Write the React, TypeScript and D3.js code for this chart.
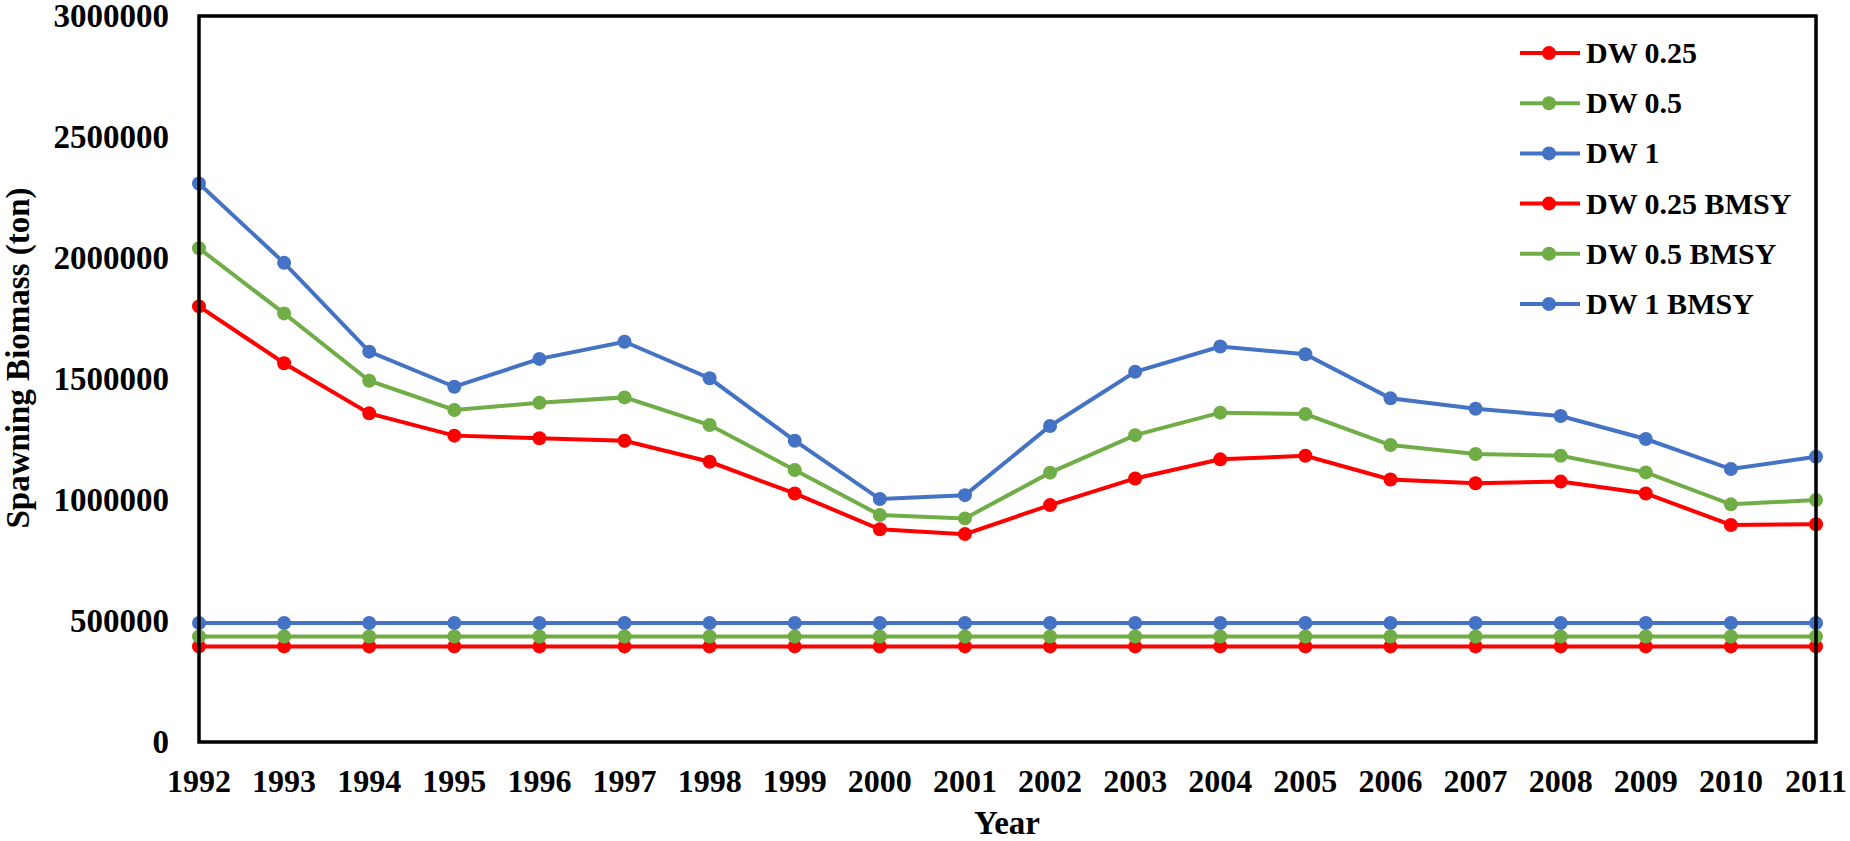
import React from "react";
import * as d3 from "d3";

const years = [1992,1993,1994,1995,1996,1997,1998,1999,2000,2001,2002,2003,2004,2005,2006,2007,2008,2009,2010,2011];
const dw025 = [1800000,1565000,1358000,1266000,1255000,1245000,1158000,1027000,879000,859000,979000,1089000,1168000,1183000,1085000,1069000,1076000,1027000,897000,900000];
const dw05 = [2040000,1771000,1493000,1372000,1402000,1424000,1310000,1124000,938000,924000,1113000,1268000,1361000,1355000,1227000,1190000,1183000,1114000,982000,1000000];
const dw1 = [2308000,1980000,1613000,1468000,1583000,1654000,1503000,1245000,1004000,1020000,1306000,1530000,1634000,1602000,1420000,1377000,1347000,1252000,1128000,1179000];
const dw025Bmsy = years.map(() => 395000);
const dw05Bmsy = years.map(() => 436000);
const dw1Bmsy = years.map(() => 492000);
const yTicks = [0,500000,1000000,1500000,2000000,2500000,3000000];
const seriesNames = ["DW 0.25","DW 0.5","DW 1","DW 0.25 BMSY","DW 0.5 BMSY","DW 1 BMSY"];
const seriesColors = ["#FF0000","#70AD47","#4472C4","#FF0000","#70AD47","#4472C4"];

const W = 1850, H = 841;
const left = 199, right = 1816, top = 16, bottom = 742;
const FONT = "'Liberation Serif', 'Times New Roman', serif";

export default function App() {
  const x = d3.scalePoint<number>().domain(years).range([left, right]);
  const y = d3.scaleLinear().domain([0, 3000000]).range([bottom, top]);
  const line = d3.line<number>().x((_, i) => x(years[i])!).y(v => y(v));
  const allSeries = [dw025, dw05, dw1, dw025Bmsy, dw05Bmsy, dw1Bmsy];
  const drawOrder = [3, 4, 5, 0, 1, 2];
  return (
    <div style={{ position: "absolute", left: 0, top: 0 }}>
      <svg width={W} height={H} style={{ display: "block", background: "#fff" }} fontFamily={FONT} fontWeight="bold">
        <rect x={0} y={0} width={W} height={H} fill="#fff" />
        {drawOrder.map(si => (
          <g key={si}>
            <path d={line(allSeries[si]) || ""} fill="none" stroke={seriesColors[si]} strokeWidth={4} />
            {allSeries[si].map((v, i) => (
              <circle key={i} cx={x(years[i])} cy={y(v)} r={7} fill={seriesColors[si]} />
            ))}
          </g>
        ))}
        <rect x={left} y={top} width={right - left} height={bottom - top} fill="none" stroke="#000" strokeWidth={3.5} />
        {yTicks.map(t => (
          <text key={t} x={169} y={y(t) + 11} textAnchor="end" fontSize={33} fill="#000">{t}</text>
        ))}
        {years.map(yr => (
          <text key={yr} x={x(yr)} y={792} textAnchor="middle" fontSize={32} fill="#000">{yr}</text>
        ))}
        <text x={1007} y={834} textAnchor="middle" fontSize={33} fill="#000">Year</text>
        <text transform={`translate(29,358) rotate(-90)`} textAnchor="middle" fontSize={33} fill="#000">Spawning Biomass (ton)</text>
        {seriesNames.map((n, i) => {
          const cy = 53 + i * 50.2;
          return (
            <g key={n}>
              <line x1={1520} x2={1580} y1={cy} y2={cy} stroke={seriesColors[i]} strokeWidth={4} />
              <circle cx={1549} cy={cy} r={7} fill={seriesColors[i]} />
              <text x={1586} y={cy + 10} fontSize={30} fill="#000">{n}</text>
            </g>
          );
        })}
      </svg>
    </div>
  );
}
